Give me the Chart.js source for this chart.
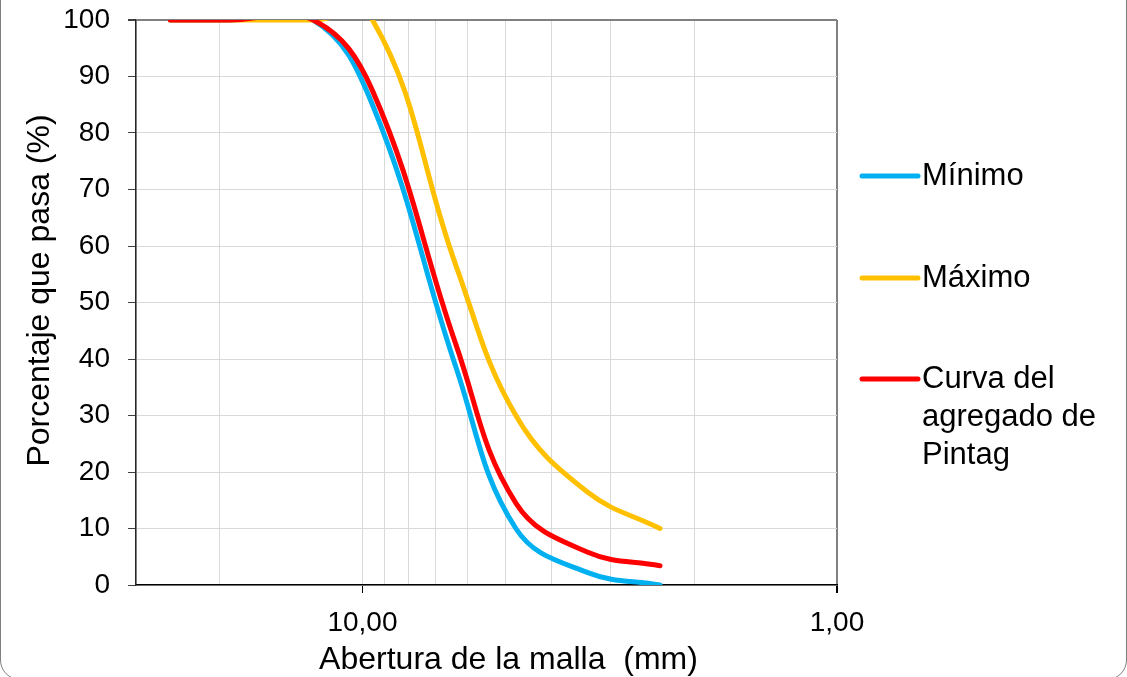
<!DOCTYPE html>
<html>
<head>
<meta charset="utf-8">
<script src="https://cdn.jsdelivr.net/npm/chart.js@4.4.0/dist/chart.umd.min.js"></script>
<style>
  html, body { margin: 0; padding: 0; background: #fff; }
  #wrap { position: relative; width: 1127px; height: 677px; overflow: hidden; }
  #frame { position: absolute; left: 0; top: -30px; width: 1125px; height: 708px; border: 1px solid #7f7f7f; border-radius: 20px; }
  #chart { position: absolute; left: 0; top: 0; }
</style>
</head>
<body>
<div id="wrap">
  <div id="frame"></div>
  <canvas id="chart" width="1127" height="677"></canvas>
</div>
<script>
// sieve openings (mm)
const sizes = [25.4, 19.05, 12.7, 9.525, 6.35, 4.75, 3.35, 2.36];
// percent passing
const minimo = [100, 100, 100, 85, 38.5, 10, 2.2, 0];
const maximo = [100, 100, 100, 100, 56.5, 30, 16.4, 10];
const pintag = [100, 100, 100, 87.5, 42.5, 14.5, 5.8, 3.4];

const seriesNames = ["Mínimo", "Máximo", "Curva del agregado de Pintag"];
const legendLines = [["Mínimo"], ["Máximo"], ["Curva del", "agregado de", "Pintag"]];
const seriesColors = ["#00B0F0", "#FFC000", "#FF0000"];

const xTitle = "Abertura de la malla  (mm)";
const yTitle = "Porcentaje que pasa (%)";
// log grid positions and the two labelled ones
const xTickValues = [1, 2, 3, 4, 5, 6, 7, 8, 9, 10, 20, 30];
const xLabels = { 10: "10,00", 1: "1,00" };

const FONT = '"Liberation Sans", Arial, sans-serif';

const toPoints = (vals) => sizes.map((s, i) => ({ x: s, y: vals[i] }));

//draws the axis titles and the legend on the right
const sideLegend = {
  id: "sideLegend",
  afterDraw(chart) {
    const ctx = chart.ctx;
    const area = chart.chartArea;
    ctx.save();
    ctx.fillStyle = "#000";
    ctx.font = "32px " + FONT;
    ctx.textAlign = "center";
    ctx.textBaseline = "middle";
    ctx.fillText(xTitle, (area.left + area.right) / 2 + 22, 660);
    ctx.save();
    ctx.translate(40, (area.top + area.bottom) / 2 - 12);
    ctx.rotate(-Math.PI / 2);
    ctx.fillText(yTitle, 0, 0);
    ctx.restore();

    const rows = [176, 278, 379];
    ctx.textAlign = "left";
    ctx.font = "31px " + FONT;
    legendLines.forEach((lines, i) => {
      const y = rows[i];
      ctx.strokeStyle = seriesColors[i];
      ctx.lineWidth = 5;
      ctx.lineCap = "round";
      ctx.beginPath();
      ctx.moveTo(area.right + 25, y);
      ctx.lineTo(area.right + 81, y);
      ctx.stroke();
      lines.forEach((t, k) => ctx.fillText(t, area.right + 85, y + k * 38));
    });
    ctx.restore();
  },
};

const series = [minimo, maximo, pintag];
new Chart(document.getElementById("chart"), {
  type: "line",
  plugins: [sideLegend],
  data: {
    datasets: series.map((vals, i) => ({
      label: seriesNames[i],
      data: toPoints(vals),
      borderColor: seriesColors[i],
      backgroundColor: seriesColors[i],
      borderWidth: 5,
      borderCapStyle: "round",
      borderJoinStyle: "round",
      pointRadius: 0,
      tension: 0.4,
      capBezierPoints: false,
      fill: false,
      order: 3 - i,
    })),
  },
  options: {
    responsive: false,
    animation: false,
    layout: { padding: { top: 20, right: 290, left: 0, bottom: 0 } },
    plugins: { legend: { display: false }, tooltip: { enabled: false } },
    scales: {
      x: {
        type: "logarithmic",
        min: 1,
        max: 30,
        reverse: true,
        afterBuildTicks(scale) { scale.ticks = xTickValues.map((v) => ({ value: v, major: !!xLabels[v] })); },
        afterFit(scale) { scale.height = 92; },
        border: { color: "#000", width: 1.5 },
        grid: {
          color: (c) => (c.tick && c.tick.value === 1 ? "#808080" : "#d9d9d9"),
          lineWidth: (c) => (c.tick && c.tick.value === 1 ? 2 : 1),
          tickLength: 8,
          tickColor: (c) => (c.tick && xLabels[c.tick.value] ? "#000" : "rgba(0,0,0,0)"),
        },
        ticks: {
          autoSkip: false,
          maxRotation: 0,
          padding: 13,
          color: "#000",
          font: { size: 28, family: FONT },
          callback: (v) => xLabels[v] || "",
        },
      },
      y: {
        min: 0,
        max: 100,
        afterFit(scale) {
          scale.width = 136;
          scale.paddingTop = 0;
          scale.paddingBottom = 0;
        },
        border: { color: "#262626", width: 1.5 },
        grid: {
          color: (c) => (c.tick && c.tick.value === 100 ? "#808080" : "#d9d9d9"),
          lineWidth: (c) => (c.tick && c.tick.value === 100 ? 2 : 1),
          tickLength: 8,
          tickColor: "#404040",
        },
        ticks: {
          stepSize: 10,
          padding: 18,
          color: "#000",
          font: { size: 28, family: FONT },
        },
      },
    },
  },
});
</script>
</body>
</html>
